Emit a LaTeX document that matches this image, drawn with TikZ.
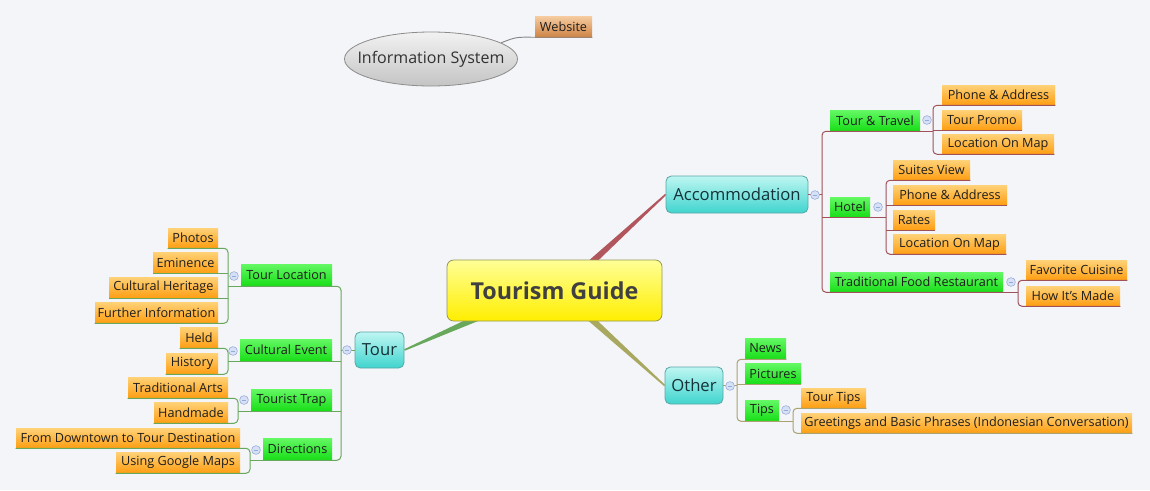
\documentclass[tikz,border=0pt]{standalone}
\usepackage{fontspec}
\setmainfont{Open Sans}
\usetikzlibrary{shapes.geometric,calc}
\pgfdeclarelayer{back}\pgfdeclarelayer{mid}
\pgfsetlayers{back,mid,main}
\definecolor{bgc}{RGB}{243,245,248}
\definecolor{accC}{RGB}{160,82,90}
\definecolor{accT}{RGB}{178,86,94}
\definecolor{tourC}{RGB}{104,168,92}
\definecolor{othC}{RGB}{170,162,112}
\definecolor{othT}{RGB}{168,168,96}
\definecolor{orT}{RGB}{255,210,120}
\definecolor{orB}{RGB}{255,158,18}
\definecolor{grT}{RGB}{100,248,100}
\definecolor{grB}{RGB}{24,222,24}
\definecolor{cyT}{RGB}{190,246,242}
\definecolor{cyB}{RGB}{64,212,206}
\definecolor{cyD}{RGB}{90,166,166}
\definecolor{cyX}{RGB}{20,50,55}
\definecolor{yeT}{RGB}{255,255,150}
\definecolor{yeB}{RGB}{255,238,0}
\definecolor{yeD}{RGB}{150,150,80}
\definecolor{yeX}{RGB}{64,64,64}
\definecolor{txt}{RGB}{30,30,30}
\definecolor{colF}{RGB}{214,224,246}
\definecolor{colD}{RGB}{150,170,214}
\definecolor{wbT}{RGB}{246,204,160}
\definecolor{wbB}{RGB}{206,132,70}
\definecolor{isT}{RGB}{242,242,242}
\definecolor{isB}{RGB}{196,196,196}
\definecolor{isD}{RGB}{140,140,140}
\definecolor{isX}{RGB}{50,50,50}
\definecolor{isL}{RGB}{135,135,135}
\newcommand\mmbox[7]{\node[#1, minimum width={(#5-#3)*0.75pt}, minimum height={(#6-#4)*0.75pt}] (#2) at ({(#3+#5)/2},{(#4+#6)/2}) {#7};}
\newcommand\mmtaper[3]{%
  \fill[#1] ($(#2)!2.4pt!90:(#3)$) -- ($(#3)!0.6pt!-90:(#2)$) -- ($(#3)!0.6pt!90:(#2)$) -- ($(#2)!2.4pt!-90:(#3)$) -- cycle;}
\tikzset{
  leafO/.style={rectangle, inner sep=0pt, top color=orT, bottom color=orB, text=txt, font=\fontsize{9.5}{10}\selectfont},
  greenN/.style={rectangle, inner sep=0pt, top color=grT, bottom color=grB, text=txt, font=\fontsize{9.5}{10}\selectfont},
  cyanN/.style={rectangle, rounded corners=4pt, inner sep=0pt, top color=cyT, bottom color=cyB, draw=cyD, line width=0.6pt, text=cyX, font=\fontsize{12.5}{14}\selectfont},
  centerN/.style={rectangle, rounded corners=5pt, inner sep=0pt, top color=yeT, bottom color=yeB, draw=yeD, line width=0.6pt, text=yeX, font=\fontsize{17.5}{19}\selectfont\bfseries},
  isN/.style={ellipse, inner sep=0pt, top color=isT, bottom color=isB, draw=isD, line width=0.6pt, text=isX, font=\fontsize{12}{14}\selectfont},
  webN/.style={rectangle, inner sep=0pt, top color=wbT, bottom color=wbB, text=txt, font=\fontsize{9.5}{10}\selectfont},
  coll/.style={circle, minimum size=6.6pt, inner sep=0pt, fill=colF, draw=colD, line width=0.4pt},
  accL/.style={draw=accC, line width=0.75pt},
  tourL/.style={draw=tourC, line width=0.75pt},
  othL/.style={draw=othC, line width=0.75pt},
  rc/.style={rounded corners=3pt}
}
\newcommand\mmcoll[3]{\node[coll] (#1) at (#2,#3) {}; \draw[colD, line width=0.6pt] ($(#1.center)+(-2.2,0)$) -- ($(#1.center)+(2.2,0)$);}
\begin{document}
\begin{tikzpicture}[x=0.75pt, y=-0.75pt]
\begin{pgfonlayer}{back}
\fill[bgc] (0,0) rectangle (1150,490);
\end{pgfonlayer}
\useasboundingbox (0,0) rectangle (1150,490);

% ---------- nodes ----------
\node[isN, minimum width=129.75pt, minimum height=40.5pt] (is) at (431,59) {\makebox[0pt]{Information System}};
\mmbox{webN}{ws}{535}{16}{592}{37}{Website}

\mmbox{centerN}{mc}{447}{260}{662}{321}{Tourism Guide}

% Accommodation branch
\mmbox{cyanN}{acc}{666}{176}{808}{213}{Accommodation}
\mmbox{greenN}{tt}{830}{110}{920}{131}{Tour \& Travel}
\mmbox{leafO}{pa1}{942}{85}{1055}{105}{Phone \& Address}
\mmbox{leafO}{tp}{942}{110}{1022}{130}{Tour Promo}
\mmbox{leafO}{lm1}{942}{134}{1054}{154}{Location On Map}
\mmbox{greenN}{ht}{830}{197}{870}{217}{Hotel}
\mmbox{leafO}{sv}{893}{160}{970}{180}{Suites View}
\mmbox{leafO}{pa2}{893}{185}{1007}{205}{Phone \& Address}
\mmbox{leafO}{rt}{893}{210}{935}{230}{Rates}
\mmbox{leafO}{lm2}{893}{234}{1006}{254}{Location On Map}
\mmbox{greenN}{tfr}{830}{272}{1003}{292}{Traditional Food Restaurant}
\mmbox{leafO}{fc}{1026}{260}{1127}{280}{Favorite Cuisine}
\mmbox{leafO}{hm}{1026}{286}{1120}{306}{How It’s Made}

% Other branch
\mmbox{cyanN}{oth}{665}{367}{723}{404}{Other}
\mmbox{greenN}{nw}{745}{338}{786}{359}{News}
\mmbox{greenN}{pic}{745}{363}{801}{384}{Pictures}
\mmbox{greenN}{tips}{745}{400}{779}{421}{Tips}
\mmbox{leafO}{ttip}{801}{388}{866}{408}{Tour Tips}
\mmbox{leafO}{grt}{801}{413}{1132}{433}{Greetings and Basic Phrases (Indonesian Conversation)}

% Tour branch
\mmbox{cyanN}{tour}{355}{332}{404}{368}{Tour}
\mmbox{greenN}{tl}{241}{264}{332}{286}{Tour Location}
\mmbox{leafO}{ph}{168}{228}{218}{248}{Photos}
\mmbox{leafO}{em}{153}{252}{218}{273}{Eminence}
\mmbox{leafO}{ch}{109}{277}{218}{298}{Cultural Heritage}
\mmbox{leafO}{fi}{95}{302}{218}{323}{Further Information}
\mmbox{greenN}{ce}{240}{339}{332}{361}{Cultural Event}
\mmbox{leafO}{hd}{180}{327}{218}{348}{Held}
\mmbox{leafO}{hs}{166}{353}{218}{374}{History}
\mmbox{greenN}{trp}{251}{389}{332}{411}{Tourist Trap}
\mmbox{leafO}{ta}{128}{377}{228}{398}{Traditional Arts}
\mmbox{leafO}{hmd}{154}{402}{228}{423}{Handmade}
\mmbox{greenN}{dir}{263}{438}{332}{460}{Directions}
\mmbox{leafO}{fd}{16}{428}{240}{448}{From Downtown to Tour Destination}
\mmbox{leafO}{ugm}{116}{452}{240}{473}{Using Google Maps}

% ---------- bracket positions ----------
\coordinate (bAcc) at (822,0);
\coordinate (bTT) at (933,0);
\coordinate (bHt) at (886,0);
\coordinate (bTFR) at (1018,0);
\coordinate (bOth) at (737,0);
\coordinate (bTips) at (793,0);
\coordinate (bTour) at (341,0);
\coordinate (bTL) at (228,0);
\coordinate (bCE) at (228,0);
\coordinate (bTrp) at (238,0);
\coordinate (bDir) at (250,0);

% ---------- main tapered connectors ----------
\coordinate (jA) at (592,262);
\coordinate (jT) at (477,318);
\coordinate (jO) at (590,318);
\begin{pgfonlayer}{mid}
\mmtaper{accT}{jA}{acc.west}
\mmtaper{tourC}{jT}{tour.east}
\mmtaper{othT}{jO}{oth.west}
\end{pgfonlayer}

% Information System -> Website
\draw[isL, line width=0.7pt] (is.13) .. controls (516,37) .. (ws.south west) -- (ws.south east);

% ---------- Accommodation lines ----------
\draw[accL] (acc.east) -- (bAcc |- acc.east);
\draw[accL, rc] (tt.south east) -- (bAcc |- tt.south) -- (bAcc |- tfr.south) -- (tfr.south east);
\draw[accL] (bAcc |- ht.south) -- (ht.south east);
\draw[accL] (tt.south east) -- (bTT |- tt.south);
\draw[accL] (ht.south east) -- (bHt |- ht.south);
\draw[accL] (tfr.south east) -- (bTFR |- tfr.south);
\draw[accL, rc] (pa1.south east) -- (bTT |- pa1.south) -- (bTT |- lm1.south) -- (lm1.south east);
\draw[accL] (bTT |- tp.south) -- (tp.south east);
\draw[accL, rc] (sv.south east) -- (bHt |- sv.south) -- (bHt |- lm2.south) -- (lm2.south east);
\draw[accL] (bHt |- pa2.south) -- (pa2.south east);
\draw[accL] (bHt |- rt.south) -- (rt.south east);
\draw[accL, rc] (fc.south east) -- (bTFR |- fc.south) -- (bTFR |- hm.south) -- (hm.south east);

% ---------- Other lines ----------
\draw[othL] (oth.east) -- (bOth |- oth.east);
\draw[othL, rc] (nw.south east) -- (bOth |- nw.south) -- (bOth |- tips.south) -- (tips.south east);
\draw[othL] (bOth |- pic.south) -- (pic.south east);
\draw[othL] (tips.south east) -- (bTips |- tips.south);
\draw[othL, rc] (ttip.south east) -- (bTips |- ttip.south) -- (bTips |- grt.south) -- (grt.south east);

% ---------- Tour lines ----------
\draw[tourL] (tour.west) -- (bTour |- tour.west);
\draw[tourL, rc] (tl.south west) -- (bTour |- tl.south) -- (bTour |- dir.south) -- (dir.south west);
\draw[tourL] (bTour |- ce.south) -- (ce.south west);
\draw[tourL] (bTour |- trp.south) -- (trp.south west);
\draw[tourL] (tl.south west) -- (bTL |- tl.south);
\draw[tourL] (ce.south west) -- (bCE |- ce.south);
\draw[tourL] (trp.south west) -- (bTrp |- trp.south);
\draw[tourL] (dir.south west) -- (bDir |- dir.south);
\draw[tourL, rc] (ph.south west) -- (bTL |- ph.south) -- (bTL |- fi.south) -- (fi.south west);
\draw[tourL] (bTL |- em.south) -- (em.south west);
\draw[tourL] (bTL |- ch.south) -- (ch.south west);
\draw[tourL, rc] (hd.south west) -- (bCE |- hd.south) -- (bCE |- hs.south) -- (hs.south west);
\draw[tourL, rc] (ta.south west) -- (bTrp |- ta.south) -- (bTrp |- hmd.south) -- (hmd.south west);
\draw[tourL, rc] (fd.south west) -- (bDir |- fd.south) -- (bDir |- ugm.south) -- (ugm.south west);

% ---------- collapse markers ----------
\mmcoll{cAcc}{815}{195}
\mmcoll{cTT}{927}{120}
\mmcoll{cHt}{878}{207}
\mmcoll{cTFR}{1011}{282}
\mmcoll{cOth}{730}{386}
\mmcoll{cTips}{786}{410}
\mmcoll{cTour}{347}{350}
\mmcoll{cTL}{234}{276}
\mmcoll{cCE}{233}{351}
\mmcoll{cTrp}{244}{400}
\mmcoll{cDir}{256}{450}
\end{tikzpicture}
\end{document}
